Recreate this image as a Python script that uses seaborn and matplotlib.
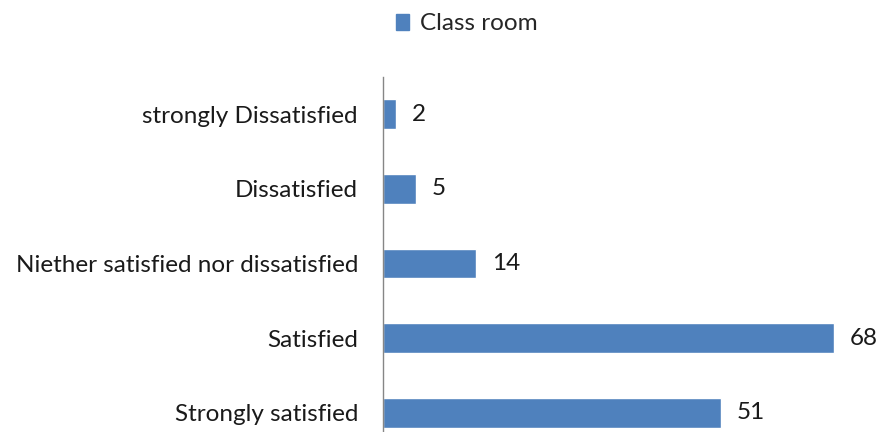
import pandas as pd
import matplotlib
matplotlib.use('Agg')
import matplotlib.pyplot as plt
import seaborn as sns
from matplotlib.patches import Patch

# Данные
categories = ['strongly Dissatisfied', 'Dissatisfied', 'Niether satisfied nor dissatisfied',
              'Satisfied', 'Strongly satisfied']
values = [2, 5, 14, 68, 51]
series_name = 'Class room'

df = pd.DataFrame({'category': categories, 'value': values})

sns.set_style('white')
plt.rcParams['font.family'] = ['Lato', 'DejaVu Sans']
fs = 17.5

fig = plt.figure(figsize=(8.79, 4.32), dpi=100)
ax = fig.add_axes([383 / 879, -18 / 432, 530 / 879, 373 / 432])

sns.barplot(data=df, y='category', x='value', color='#4F81BD', saturation=1,
            width=0.4, orient='h', ax=ax)

ax.set_xlim(0, 80)
ax.set_ylim(4.5, -0.5)
ax.set_xlabel('')
ax.set_ylabel('')
ax.set_xticks([])
ax.tick_params(axis='y', length=0, pad=18, labelsize=fs, labelcolor='#1a1a1a')
for s in ['top', 'right', 'bottom']:
    ax.spines[s].set_visible(False)
ax.spines['left'].set_color('#868686')
ax.spines['left'].set_linewidth(1)

for i, v in enumerate(values):
    ax.text(v + 2.4, i, str(v), va='center', ha='left', fontsize=fs, color='#1a1a1a')

fig.legend(handles=[Patch(color='#4F81BD', label=series_name)], loc='center',
           bbox_to_anchor=(467 / 879, 1 - 24 / 432), frameon=False, fontsize=fs,
           handlelength=0.55, handleheight=0.6, handletextpad=0.45)

fig.savefig('out.png', dpi=100)
